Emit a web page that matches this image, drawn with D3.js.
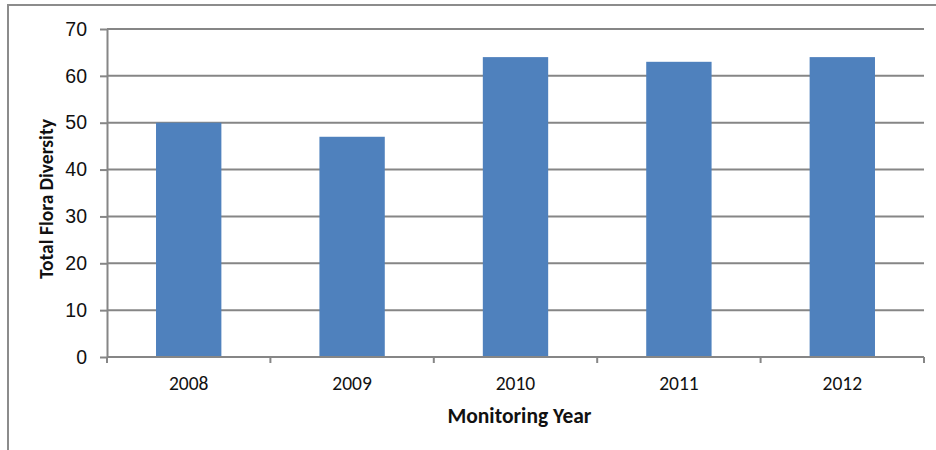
<!DOCTYPE html>
<html>
<head>
<meta charset="utf-8">
<script src="https://cdn.jsdelivr.net/npm/d3@7"></script>
<style>
  body { margin: 0; background: #fff; }
  svg { display: block; font-family: Carlito, Lato, "Open Sans", sans-serif; }
  .axis path, .axis line { stroke: #868686; stroke-width: 2px; }
  .axis text { fill: #111; font-size: 19.5px; }
  .grid line { stroke: #868686; stroke-width: 2px; }
</style>
</head>
<body>
<svg id="chart"></svg>
<script>
const years = ["2008", "2009", "2010", "2011", "2012"];
const diversity = [50, 47, 64, 63, 64];
const yTicks = [0, 10, 20, 30, 40, 50, 60, 70];

const width = 936,
  height = 450,
  margin = { top: 29, right: 12, bottom: 93, left: 107 };

const svg = d3.select("#chart").attr("width", width).attr("height", height);

// outer chart frame (right/bottom edges fall off the picture)
svg.append("rect")
  .attr("x", 8).attr("y", 5)
  .attr("width", width + 20).attr("height", height + 20)
  .attr("fill", "#fff")
  .attr("stroke", "#8c8c8c")
  .attr("stroke-width", 2);

const x = d3.scaleBand()
  .domain(years)
  .range([margin.left, width - margin.right])
  .paddingInner(0.6)
  .paddingOuter(0.3);

const y = d3.scaleLinear()
  .domain([0, 70])
  .range([height - margin.bottom, margin.top]);

// gridlines
svg.append("g")
  .attr("class", "grid")
  .selectAll("line")
  .data(yTicks.slice(1))
  .join("line")
  .attr("x1", margin.left)
  .attr("x2", width - margin.right)
  .attr("y1", (d) => y(d))
  .attr("y2", (d) => y(d));

// bars
svg.append("g")
  .selectAll("rect")
  .data(years)
  .join("rect")
  .attr("x", (d) => x(d))
  .attr("y", (d, i) => y(diversity[i]))
  .attr("width", x.bandwidth())
  .attr("height", (d, i) => y(0) - y(diversity[i]))
  .attr("fill", "#4f81bd");

// y axis
svg.append("g")
  .attr("class", "axis")
  .attr("transform", `translate(${margin.left},0)`)
  .call(d3.axisLeft(y).tickValues(yTicks).tickSize(7).tickSizeOuter(0).tickPadding(13));

// x axis: ticks at category boundaries
const step = x.step();
const bounds = years.map((d, i) => margin.left + i * step).concat([width - margin.right]);
const xAxis = svg.append("g")
  .attr("class", "axis")
  .attr("transform", `translate(0,${y(0)})`);
xAxis.append("line")
  .attr("x1", margin.left).attr("x2", width - margin.right)
  .attr("y1", 0).attr("y2", 0);
xAxis.selectAll(".bound")
  .data(bounds)
  .join("line")
  .attr("class", "bound")
  .attr("x1", (d) => d).attr("x2", (d) => d)
  .attr("y1", 0).attr("y2", 6);
xAxis.selectAll(".lbl")
  .data(years)
  .join("text")
  .attr("class", "lbl")
  .attr("x", (d) => x(d) + x.bandwidth() / 2)
  .attr("y", 33)
  .attr("text-anchor", "middle")
  .text((d) => d);

// axis titles
svg.append("text")
  .attr("x", (margin.left + width - margin.right) / 2 + 4)
  .attr("y", 423)
  .attr("text-anchor", "middle")
  .style("font-size", "21.5px")
  .style("font-weight", "bold")
  .style("fill", "#111")
  .text("Monitoring Year");

svg.append("text")
  .attr("transform", `translate(53,${(margin.top + y(0)) / 2 + 6}) rotate(-90)`)
  .attr("text-anchor", "middle")
  .style("font-size", "19.5px")
  .style("font-weight", "bold")
  .style("fill", "#111")
  .text("Total Flora Diversity");
</script>
</body>
</html>
